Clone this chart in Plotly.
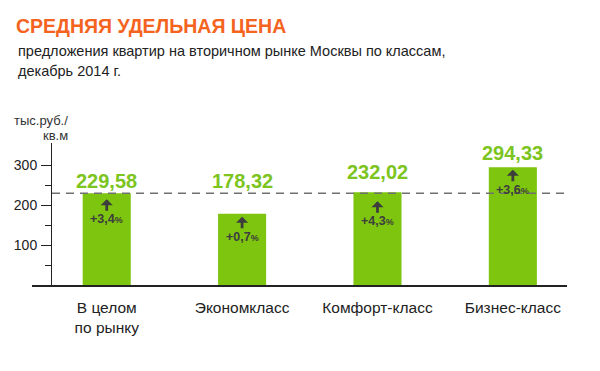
import plotly.graph_objects as go

# ---- data ----
categories = ["В целом<br>по рынку", "Экономкласс", "Комфорт-класс", "Бизнес-класс"]
prices = [229.58, 178.32, 232.02, 294.33]
price_labels = ["229,58", "178,32", "232,02", "294,33"]
changes = ["+3,4", "+0,7", "+4,3", "+3,6"]
market_avg = 229.58
y_ticks = [100, 200, 300]
y_minor_ticks = [50, 150, 250]

# ---- styles / layout tuning ----
GREEN_BAR = "#7dc50f"
GREEN_TXT = "#7cc41e"
DARK = "#3d3d3d"
ORANGE = "#f4641e"
FONT = "Arial, Liberation Sans, sans-serif"
value_label_shift = [12, 33, 20, 14]     # px above bar top (label centre)
arrow_shift = [6, 3, 9, 2.5]             # px below bar top (arrow head)

W, H = 600, 371
ML, MR, MT, MB = 32, 33, 143, 86
plot_w = W - ML - MR
plot_h = H - MT - MB

x_idx = list(range(len(categories)))

fig = go.Figure()
fig.add_trace(go.Bar(
    x=x_idx, y=prices, width=0.355,
    marker=dict(color=GREEN_BAR, line=dict(width=0)),
    hoverinfo="skip",
))

annotations = []
for i, (v, lab, ch) in enumerate(zip(prices, price_labels, changes)):
    annotations.append(dict(
        x=i, y=v, xref="x", yref="y", text=f"<b>{lab}</b>", showarrow=False,
        yanchor="middle", yshift=value_label_shift[i],
        font=dict(family=FONT, size=20, color=GREEN_TXT),
    ))
    # arrow
    annotations.append(dict(
        x=i, y=v, xref="x", yref="y", text="", showarrow=True,
        ax=0, ay=13, axref="pixel", ayref="pixel",
        yshift=-arrow_shift[i],
        arrowhead=1, arrowsize=0.72, arrowwidth=2.8, arrowcolor=DARK, standoff=0,
    ))
    annotations.append(dict(
        x=i, y=v, xref="x", yref="y",
        text=f"<b>{ch}</b><span style='font-size:9px'><b>%</b></span>",
        showarrow=False, yanchor="middle", yshift=-(arrow_shift[i] + 20),
        font=dict(family=FONT, size=12.5, color=DARK),
    ))

# y-axis title (two lines)
annotations.append(dict(
    x=(70 - ML) / plot_w, y=1 + (MT - 120) / plot_h, xref="paper", yref="paper",
    text="тыс.руб./", showarrow=False, xanchor="right", yanchor="middle",
    font=dict(family=FONT, size=13, color="#333333"),
))
annotations.append(dict(
    x=(70 - ML) / plot_w, y=1 + (MT - 135) / plot_h, xref="paper", yref="paper",
    text="кв.м", showarrow=False, xanchor="right", yanchor="middle",
    font=dict(family=FONT, size=13, color="#333333"),
))
# subtitle lines
annotations.append(dict(
    x=(16 - ML) / plot_w, y=1 + (MT - 51) / plot_h, xref="paper", yref="paper",
    text="предложения квартир на вторичном рынке Москвы по классам,",
    showarrow=False, xanchor="left", yanchor="middle",
    font=dict(family=FONT, size=14.5, color="#222222"),
))
annotations.append(dict(
    x=(16 - ML) / plot_w, y=1 + (MT - 71) / plot_h, xref="paper", yref="paper",
    text="декабрь 2014 г.",
    showarrow=False, xanchor="left", yanchor="middle",
    font=dict(family=FONT, size=14.5, color="#222222"),
))

x_left = -0.552
x_right = 3.40

fig.update_layout(
    width=W, height=H,
    margin=dict(l=ML, r=MR, t=MT, b=MB, pad=0),
    paper_bgcolor="white", plot_bgcolor="white",
    showlegend=False,
    title=dict(
        text="СРЕДНЯЯ УДЕЛЬНАЯ ЦЕНА", x=16 / W, xanchor="left", xref="container",
        y=1 - 26 / H, yanchor="middle", yref="container",
        font=dict(family=FONT, size=19.5, color=ORANGE, weight="bold"),
    ),
    xaxis=dict(
        range=[x_left, x_right], tickmode="array", tickvals=x_idx, ticktext=categories,
        showgrid=False, zeroline=False, showline=True, linecolor="#222222", linewidth=2,
        ticks="", tickfont=dict(family=FONT, size=15.5, color="#222222"),
        ticklabelstandoff=7, fixedrange=True,
    ),
    yaxis=dict(
        range=[0, 355], anchor="free", position=(51 - ML) / plot_w,
        tickmode="array", tickvals=y_ticks,
        showgrid=False, zeroline=False, showline=True, linecolor="#222222", linewidth=1,
        ticks="outside", ticklen=10, tickcolor="#222222", tickwidth=1,
        minor=dict(tickmode="array", tickvals=y_minor_ticks, ticks="outside",
                   ticklen=6, tickcolor="#222222", tickwidth=1),
        tickfont=dict(family=FONT, size=14, color="#222222"),
        ticklabelstandoff=1, fixedrange=True,
    ),
    shapes=[dict(
        type="line", xref="paper", yref="y",
        x0=(52 - ML) / plot_w, x1=1, y0=market_avg, y1=market_avg,
        line=dict(color="#707070", width=1.5, dash="8px,6px"), layer="above",
    )],
    annotations=annotations,
)

fig.write_html("out.html", config={"displayModeBar": False},
               post_script="document.body.style.margin='0px';")
